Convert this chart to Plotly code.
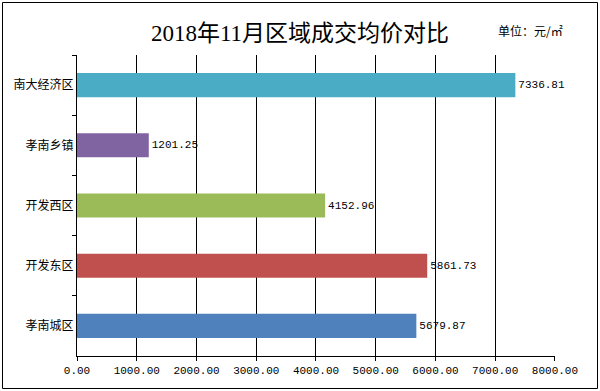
import plotly.graph_objects as go

categories = ["南大经济区", "孝南乡镇", "开发西区", "开发东区", "孝南城区"]
values = [7336.81, 1201.25, 4152.96, 5861.73, 5679.87]
colors = ["#4bacc6", "#8064a2", "#9bbb59", "#c0504d", "#4f81bd"]
x_ticks = [0, 1000, 2000, 3000, 4000, 5000, 6000, 7000, 8000]
x_tick_labels = ["%.2f" % v for v in x_ticks]

L, R, T, B = 77, 45, 55, 35
W, H = 600, 391
pw, ph = W - L - R, H - T - B

def px(x):
    return (x - L) / pw

def py(y):
    return (H - B - y) / ph

fig = go.Figure()
fig.add_trace(go.Bar(
    y=categories, x=values, orientation="h",
    marker=dict(color=colors, line=dict(width=0)),
    text=["%.2f" % v for v in values], textposition="outside",
    textfont=dict(family="Liberation Mono, DejaVu Sans Mono", size=11, color="black"),
    cliponaxis=False, width=0.4,
))

fig.update_layout(
    width=W, height=H,
    margin=dict(l=L, r=R, t=T, b=B, autoexpand=False),
    paper_bgcolor="white", plot_bgcolor="white",
    showlegend=False,
    title=dict(text="2018年11月区域成交均价对比", x=0.5, xanchor="center", y=1 - 33 / H, yanchor="middle",
               font=dict(family="Liberation Serif, Noto Sans CJK SC", size=23, color="black")),
    xaxis=dict(range=[0, 8000.5], tickvals=x_ticks, ticktext=x_tick_labels, automargin=False,
               showgrid=True, gridcolor="black", gridwidth=1,
               showline=True, linecolor="black", linewidth=1,
               ticks="outside", ticklen=4, tickcolor="black", zeroline=False,
               tickfont=dict(family="Liberation Mono, DejaVu Sans Mono", size=11, color="black")),
    yaxis=dict(autorange="reversed", showline=True, linecolor="black", linewidth=1, automargin=False,
               ticks="outside", ticklen=4, tickcolor="black", tickson="boundaries",
               showgrid=False,
               tickfont=dict(family="Noto Sans CJK SC", size=12, color="black")),
)

fig.add_annotation(text="单位：元/㎡", xref="paper", yref="paper", x=px(530), y=py(30),
                   xanchor="center", yanchor="middle",
                   showarrow=False, font=dict(family="Noto Sans CJK SC", size=12, color="black"))

fig.add_shape(type="rect", xref="paper", yref="paper", x0=px(2.5), x1=px(597.5), y0=py(388.5), y1=py(2.5),
              line=dict(color="black", width=1), fillcolor="rgba(0,0,0,0)", layer="above")

fig.write_html("out.html", config={"displayModeBar": False},
               post_script="document.body.style.margin='0';document.body.style.overflow='hidden';")
